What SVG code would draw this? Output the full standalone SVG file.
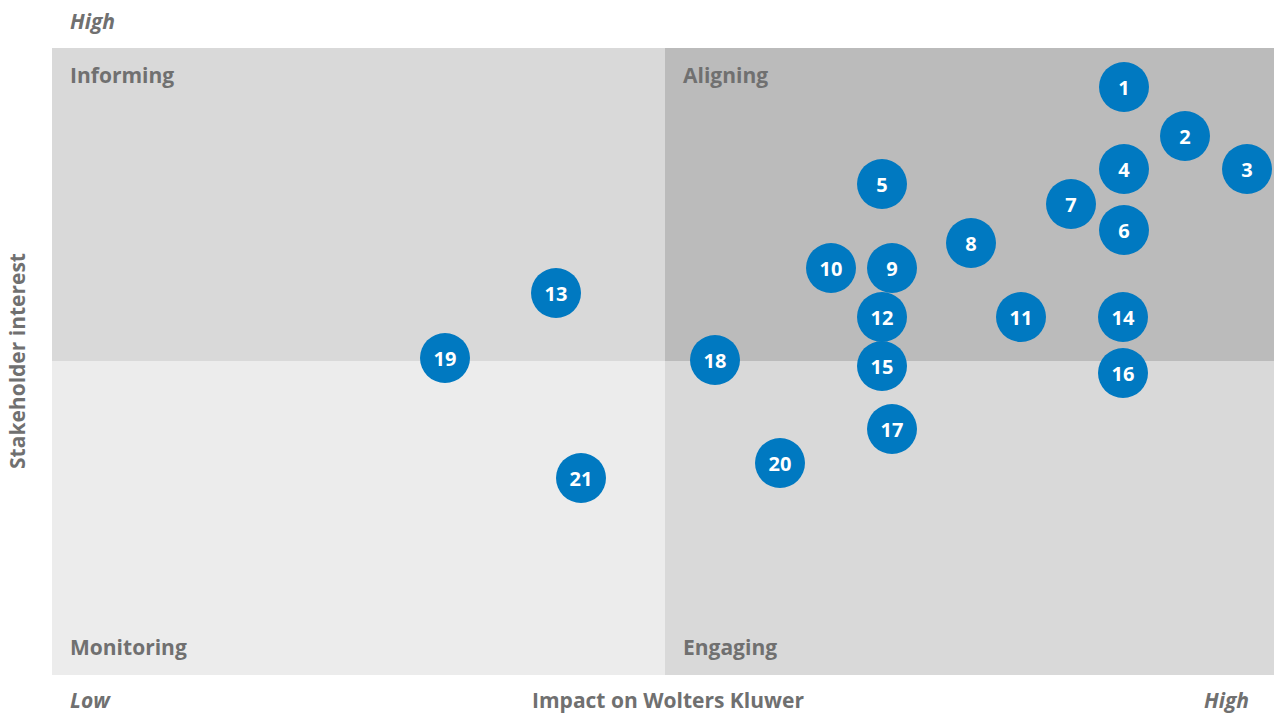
<svg xmlns="http://www.w3.org/2000/svg" width="1274" height="713" viewBox="0 0 1274 713">
<style>
.lbl{font-family:"Open Sans","Noto Sans",sans-serif;font-weight:700;font-size:21px;fill:#707070}
.it{font-family:"Open Sans","Noto Sans",sans-serif;font-weight:700;font-style:italic;font-size:21px;fill:#707070}
.dot circle{fill:#0079c1}
.dot text{font-family:"Open Sans","Noto Sans",sans-serif;font-weight:700;font-size:20px;fill:#ffffff;text-anchor:middle;dominant-baseline:central}
</style>
<rect width="1274" height="713" fill="#ffffff"/>
<g id="quadrants">
<rect x="52" y="48" width="613" height="313" fill="#d9d9d9"/>
<rect x="665" y="48" width="609" height="313" fill="#bbbbbb"/>
<rect x="52" y="361" width="613" height="314" fill="#ececec"/>
<rect x="665" y="361" width="609" height="314" fill="#d9d9d9"/>
</g>
<g id="labels">
<text class="lbl" x="70" y="83">Informing</text>
<text class="lbl" x="683" y="83">Aligning</text>
<text class="lbl" x="70" y="655">Monitoring</text>
<text class="lbl" x="683" y="655">Engaging</text>
<text class="it" x="70" y="29">High</text>
<text class="it" x="70" y="708">Low</text>
<text class="it" x="1249" y="708" text-anchor="end">High</text>
<text class="lbl" x="668" y="708" text-anchor="middle">Impact on Wolters Kluwer</text>
<text class="lbl" transform="translate(25 361) rotate(-90)" text-anchor="middle">Stakeholder interest</text>
</g>
<g id="n1" class="dot"><circle cx="1124" cy="87" r="25"/><text x="1124" y="87">1</text></g>
<g id="n2" class="dot"><circle cx="1185" cy="136" r="25"/><text x="1185" y="136">2</text></g>
<g id="n3" class="dot"><circle cx="1247" cy="169" r="25"/><text x="1247" y="169">3</text></g>
<g id="n4" class="dot"><circle cx="1124" cy="169" r="25"/><text x="1124" y="169">4</text></g>
<g id="n5" class="dot"><circle cx="882" cy="184" r="25"/><text x="882" y="184">5</text></g>
<g id="n6" class="dot"><circle cx="1124" cy="230" r="25"/><text x="1124" y="230">6</text></g>
<g id="n7" class="dot"><circle cx="1071" cy="204" r="25"/><text x="1071" y="204">7</text></g>
<g id="n8" class="dot"><circle cx="971" cy="243" r="25"/><text x="971" y="243">8</text></g>
<g id="n9" class="dot"><circle cx="892" cy="268" r="25"/><text x="892" y="268">9</text></g>
<g id="n10" class="dot"><circle cx="831" cy="268" r="25"/><text x="831" y="268">10</text></g>
<g id="n11" class="dot"><circle cx="1021" cy="317" r="25"/><text x="1021" y="317">11</text></g>
<g id="n12" class="dot"><circle cx="882" cy="317" r="25"/><text x="882" y="317">12</text></g>
<g id="n13" class="dot"><circle cx="556" cy="293" r="25"/><text x="556" y="293">13</text></g>
<g id="n14" class="dot"><circle cx="1123" cy="317" r="25"/><text x="1123" y="317">14</text></g>
<g id="n15" class="dot"><circle cx="882" cy="366" r="25"/><text x="882" y="366">15</text></g>
<g id="n16" class="dot"><circle cx="1123" cy="373" r="25"/><text x="1123" y="373">16</text></g>
<g id="n17" class="dot"><circle cx="892" cy="429" r="25"/><text x="892" y="429">17</text></g>
<g id="n18" class="dot"><circle cx="715" cy="360" r="25"/><text x="715" y="360">18</text></g>
<g id="n19" class="dot"><circle cx="445" cy="358" r="25"/><text x="445" y="358">19</text></g>
<g id="n20" class="dot"><circle cx="780" cy="463" r="25"/><text x="780" y="463">20</text></g>
<g id="n21" class="dot"><circle cx="581" cy="478" r="25"/><text x="581" y="478">21</text></g>
<g id="connectors"/>
</svg>
